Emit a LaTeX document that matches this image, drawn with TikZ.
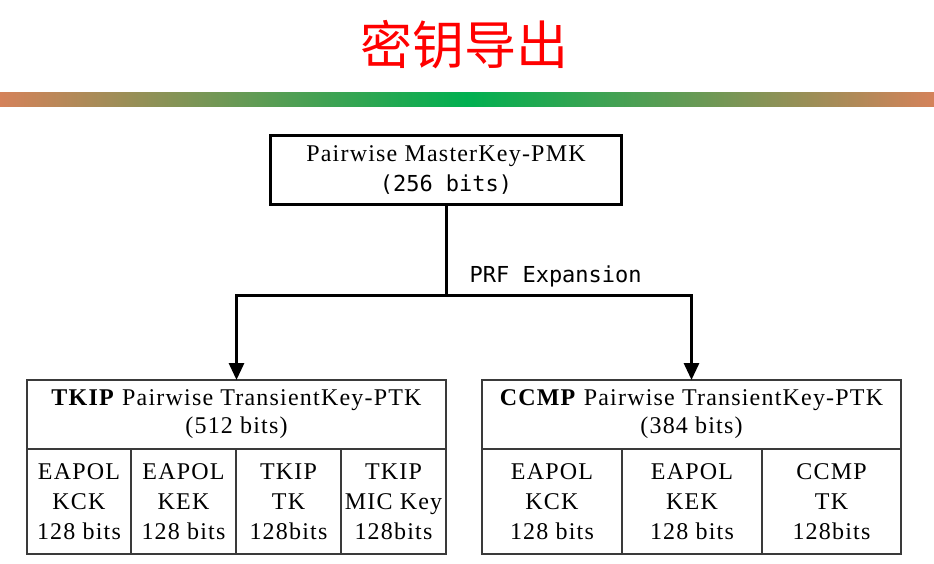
\documentclass[tikz,border=0pt]{standalone}
\usepackage{fontspec}
\setmainfont{Liberation Serif}
\newfontfamily\monof{DejaVu Sans Mono}
\newfontfamily\cjk{Noto Sans CJK SC}
\newfontfamily\spaced[LetterSpace=5]{Liberation Serif}
\usetikzlibrary{arrows.meta}
\definecolor{barend}{HTML}{D4825A}
\definecolor{barmid}{HTML}{00B050}
\definecolor{tabline}{HTML}{3A3A3A}
\begin{document}
\begin{tikzpicture}[x=1pt,y=-1pt,
  thickline/.style={line width=3pt,black},
  cell/.style={draw=tabline,line width=1.2pt,inner sep=0pt,outer sep=0pt,align=center,
    font=\spaced\fontsize{24}{30}\selectfont},
  headcell/.style={cell,font=\spaced\fontsize{24}{28}\selectfont},
  arrowline/.style={thickline,-{Triangle[width=15pt,length=17pt]}}]
\useasboundingbox (0,0) rectangle (934,564);
% title
\node[text=red,font=\cjk\fontsize{52}{60}\selectfont] (title) at (464,45) {密钥导出};
% gradient bar
\shade[left color=barend,right color=barmid] (0,93) rectangle (467,107);
\shade[left color=barmid,right color=barend] (466.5,93) rectangle (934,107);
% PMK box
\node[draw,line width=3pt,inner sep=0pt,minimum width=351pt,minimum height=69pt,align=center,
  font=\spaced\fontsize{24}{30}\selectfont] (pmk) at (446,170)
  {\raisebox{-2pt}{Pairwise MasterKey-PMK}\\{\monof\fontsize{22}{30}\selectfont \raisebox{-2pt}{(256 bits)}}};
\coordinate (split) at (446,295);
\node[font=\monof\fontsize{22}{26}\selectfont,anchor=west] (prf) at (466,276) {PRF Expansion};
% TKIP table
\node[headcell,minimum width=419pt,minimum height=69pt] (tkiphead) at (236.5,414.5)
  {\raisebox{-2pt}{\textbf{TKIP} Pairwise TransientKey-PTK}\\\raisebox{-2pt}{(512 bits)}};
\node[cell,minimum width=104pt,minimum height=105pt] (t1) at (79,501.5) {EAPOL\\KCK\\128 bits};
\node[cell,minimum width=105pt,minimum height=105pt] (t2) at (183.5,501.5) {EAPOL\\KEK\\128 bits};
\node[cell,minimum width=105pt,minimum height=105pt] (t3) at (288.5,501.5) {TKIP\\TK\\128bits};
\node[cell,minimum width=105pt,minimum height=105pt] (t4) at (393.5,501.5) {TKIP\\MIC Key\\128bits};
% CCMP table
\node[headcell,minimum width=419pt,minimum height=69pt] (ccmphead) at (691.5,414.5)
  {\raisebox{-2pt}{\textbf{CCMP} Pairwise TransientKey-PTK}\\\raisebox{-2pt}{(384 bits)}};
\node[cell,minimum width=140pt,minimum height=105pt] (c1) at (552,501.5) {EAPOL\\KCK\\128 bits};
\node[cell,minimum width=140pt,minimum height=105pt] (c2) at (692,501.5) {EAPOL\\KEK\\128 bits};
\node[cell,minimum width=139pt,minimum height=105pt] (c3) at (831.5,501.5) {CCMP\\TK\\128bits};
% connectors
\draw[thickline] (pmk.south) -- (split);
\draw[arrowline] (split) -| (tkiphead.north);
\draw[arrowline] (split) -| (ccmphead.north);
\end{tikzpicture}
\end{document}
